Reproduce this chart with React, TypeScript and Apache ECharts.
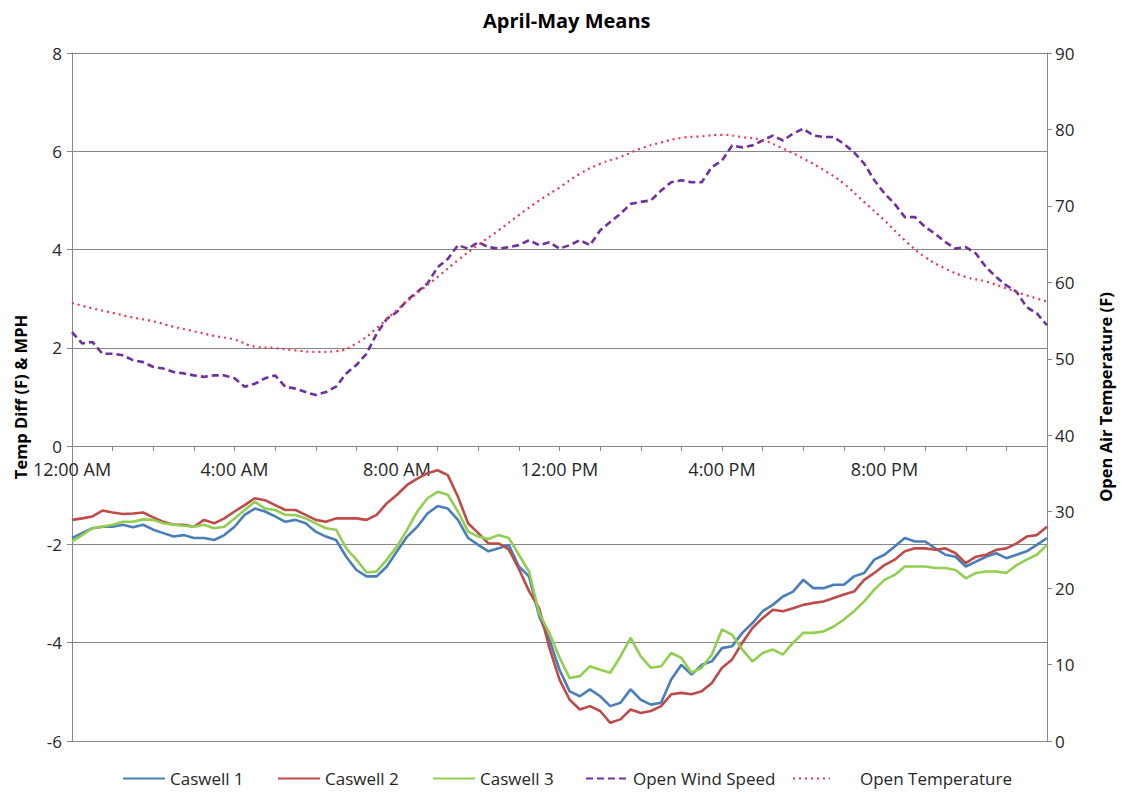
import { useEffect, useRef } from "react";
import * as echarts from "echarts";

const TITLE = "April-May Means";
const LEFT_AXIS_NAME = "Temp Diff (F) & MPH";
const RIGHT_AXIS_NAME = "Open Air Temperature (F)";

const X_LABEL_HOURS = [0, 4, 8, 12, 16, 20];
const X_LABELS = ["12:00 AM", "4:00 AM", "8:00 AM", "12:00 PM", "4:00 PM", "8:00 PM"];

// sample times (hours since midnight), every 15 minutes
const HOURS = Array.from({ length: 97 }, (_, i) => i / 4);
// temperature sample times, every 30 minutes
const TEMP_HOURS = Array.from({ length: 49 }, (_, i) => i / 2);

const CASWELL_1 = [
  -1.87, -1.77, -1.67, -1.64, -1.64, -1.6, -1.65, -1.6, -1.7, -1.77, -1.84, -1.81, -1.87, -1.87, -1.91, -1.81,
  -1.64, -1.4, -1.27, -1.33, -1.43, -1.54, -1.5, -1.57, -1.74, -1.84, -1.91, -2.25, -2.52, -2.65, -2.65, -2.45,
  -2.14, -1.84, -1.64, -1.37, -1.22, -1.27, -1.5, -1.87, -2.01, -2.14, -2.08, -2.01, -2.45, -2.65, -3.46, -3.94,
  -4.55, -4.99, -5.09, -4.95, -5.09, -5.29, -5.22, -4.95, -5.16, -5.26, -5.22, -4.75, -4.45, -4.65, -4.45, -4.38,
  -4.11, -4.07, -3.8, -3.6, -3.36, -3.23, -3.06, -2.96, -2.72, -2.89, -2.89, -2.82, -2.82, -2.65, -2.58, -2.31,
  -2.21, -2.04, -1.87, -1.94, -1.94, -2.08, -2.21, -2.25, -2.45, -2.35, -2.25, -2.18, -2.28, -2.21, -2.14, -2.01,
  -1.87,
];

const CASWELL_2 = [
  -1.5, -1.47, -1.43, -1.31, -1.35, -1.38, -1.37, -1.35, -1.45, -1.54, -1.6, -1.6, -1.64, -1.5, -1.57, -1.47,
  -1.33, -1.2, -1.06, -1.1, -1.2, -1.3, -1.3, -1.4, -1.5, -1.54, -1.47, -1.47, -1.47, -1.5, -1.4, -1.16,
  -0.99, -0.79, -0.66, -0.55, -0.49, -0.59, -1.03, -1.57, -1.77, -1.98, -1.98, -2.1, -2.5, -2.95, -3.3, -4.1,
  -4.75, -5.16, -5.36, -5.29, -5.39, -5.63, -5.56, -5.36, -5.43, -5.39, -5.29, -5.05, -5.02, -5.05, -4.99, -4.82,
  -4.51, -4.34, -4.0, -3.7, -3.5, -3.33, -3.36, -3.3, -3.23, -3.19, -3.16, -3.09, -3.02, -2.96, -2.72, -2.58,
  -2.42, -2.31, -2.14, -2.08, -2.08, -2.11, -2.08, -2.18, -2.38, -2.25, -2.21, -2.11, -2.08, -1.98, -1.84, -1.81,
  -1.64,
];

const CASWELL_3 = [
  -1.94, -1.81, -1.67, -1.64, -1.6, -1.54, -1.54, -1.49, -1.5, -1.57, -1.6, -1.62, -1.64, -1.6, -1.67, -1.64,
  -1.47, -1.3, -1.13, -1.27, -1.3, -1.4, -1.4, -1.47, -1.57, -1.67, -1.7, -2.08, -2.31, -2.57, -2.55, -2.31,
  -2.04, -1.7, -1.33, -1.06, -0.93, -0.99, -1.33, -1.74, -1.84, -1.89, -1.81, -1.87, -2.21, -2.55, -3.4, -3.8,
  -4.3, -4.72, -4.68, -4.48, -4.55, -4.61, -4.28, -3.9, -4.28, -4.51, -4.48, -4.21, -4.31, -4.61, -4.51, -4.24,
  -3.73, -3.84, -4.14, -4.38, -4.21, -4.14, -4.24, -4.0, -3.8, -3.8, -3.77, -3.67, -3.53, -3.36, -3.16, -2.92,
  -2.72, -2.62, -2.45, -2.45, -2.45, -2.48, -2.48, -2.52, -2.69, -2.58, -2.55, -2.55, -2.58, -2.42, -2.31, -2.21,
  -2.01,
];

const OPEN_WIND_SPEED = [
  2.32, 2.09, 2.12, 1.88, 1.88, 1.85, 1.75, 1.71, 1.61, 1.58, 1.51, 1.48, 1.44, 1.41, 1.44, 1.44,
  1.38, 1.21, 1.27, 1.38, 1.44, 1.21, 1.17, 1.1, 1.04, 1.1, 1.21, 1.48, 1.65, 1.88, 2.29, 2.59,
  2.73, 2.97, 3.14, 3.31, 3.64, 3.81, 4.09, 4.02, 4.15, 4.05, 4.02, 4.05, 4.09, 4.19, 4.09, 4.15,
  4.02, 4.09, 4.19, 4.09, 4.39, 4.56, 4.73, 4.93, 4.97, 5.0, 5.2, 5.37, 5.41, 5.37, 5.37, 5.68,
  5.81, 6.12, 6.08, 6.12, 6.22, 6.32, 6.22, 6.36, 6.46, 6.32, 6.29, 6.29, 6.15, 5.98, 5.75, 5.41,
  5.14, 4.93, 4.66, 4.66, 4.46, 4.32, 4.15, 4.02, 4.05, 3.92, 3.64, 3.44, 3.27, 3.14, 2.83, 2.7,
  2.46,
];

const OPEN_TEMPERATURE = [
  57.3, 56.6, 56.0, 55.4, 54.9, 54.2, 53.6, 53.0, 52.5, 51.6, 51.4, 51.1, 50.9, 51.0, 52.0, 54.0,
  56.4, 58.6, 60.7, 62.9, 64.9, 66.8, 68.8, 70.7, 72.4, 74.2, 75.5, 76.4, 77.5, 78.3, 78.9, 79.1,
  79.3, 79.0, 78.6, 77.5, 76.2, 74.7, 72.9, 70.5, 68.1, 65.5, 63.3, 61.8, 60.7, 60.1, 59.2, 58.3,
  57.5,
];

const SERIES_NAMES = ["Caswell 1", "Caswell 2", "Caswell 3", "Open Wind Speed", "Open Temperature"];

const FONT = "'Open Sans', 'Noto Sans', sans-serif";
const GRID_COLOR = "#868686";
const TEXT_COLOR = "#262626";

const zip = (xs: number[], ys: number[]) => ys.map((y, i) => [xs[i], y]);

export default function App() {
  const ref = useRef<HTMLDivElement>(null);

  useEffect(() => {
    if (!ref.current) return;
    const chart = echarts.init(ref.current, undefined, { renderer: "svg" });

    const legendLefts = [122, 277, 432, 585, 792];
    const legends = SERIES_NAMES.map((name, i) => ({
      data: [name],
      left: legendLefts[i],
      top: 770,
      padding: 0,
      itemWidth: i === 4 ? 37 : 42,
      itemHeight: 12,
      itemStyle: { color: "rgba(0,0,0,0)", borderWidth: 0, opacity: 0 },
      textStyle: {
        fontSize: 17,
        fontFamily: FONT,
        color: TEXT_COLOR,
        padding: i === 4 ? [0, 0, 0, 25] : [0, 0, 0, 0],
      },
    }));

    const lineSeries = (name: string, data: number[][], color: string, extra: any = {}) => ({
      name,
      type: "line",
      data,
      showSymbol: false,
      symbol: "none",
      yAxisIndex: 0,
      lineStyle: { color, width: 2.6 },
      itemStyle: { color },
      ...extra,
    });

    chart.setOption({
      animation: false,
      backgroundColor: "#ffffff",
      title: {
        text: TITLE,
        left: 478,
        top: 5,
        textStyle: { fontSize: 20, fontWeight: "bold", fontFamily: FONT, color: "#000" },
      },
      legend: legends,
      grid: { left: 72, right: 71, top: 53, bottom: 52, containLabel: false },
      xAxis: {
        type: "value",
        min: 0,
        max: 24,
        interval: 1,
        position: "bottom",
        offset: -295,
        axisLine: { show: true, onZero: false, lineStyle: { color: GRID_COLOR, width: 1 } },
        axisTick: { show: true, length: 5, inside: false, lineStyle: { color: GRID_COLOR } },
        axisLabel: {
          fontSize: 18,
          fontFamily: FONT,
          color: TEXT_COLOR,
          margin: 14,
          showMinLabel: true,
          showMaxLabel: true,
          hideOverlap: false,
          formatter: (v: number) => {
            const i = X_LABEL_HOURS.indexOf(v);
            return i >= 0 ? X_LABELS[i] : "";
          },
        },
        splitLine: { show: false },
      },
      yAxis: [
        {
          type: "value",
          position: "left",
          min: -6,
          max: 8,
          interval: 2,
          name: LEFT_AXIS_NAME,
          nameLocation: "middle",
          nameGap: 43,
          nameTextStyle: { fontSize: 16.5, fontWeight: "bold", fontFamily: FONT, color: "#000" },
          axisLine: { show: true, onZero: false, lineStyle: { color: GRID_COLOR } },
          axisTick: { show: true, length: 5, lineStyle: { color: GRID_COLOR } },
          axisLabel: { fontSize: 17, fontFamily: FONT, color: TEXT_COLOR, margin: 10 },
          splitLine: { show: true, lineStyle: { color: GRID_COLOR, width: 1 } },
        },
        {
          type: "value",
          position: "right",
          min: 0,
          max: 90,
          interval: 10,
          name: RIGHT_AXIS_NAME,
          nameLocation: "middle",
          nameGap: 50,
          nameTextStyle: { fontSize: 16.5, fontWeight: "bold", fontFamily: FONT, color: "#000" },
          axisLine: { show: true, onZero: false, lineStyle: { color: GRID_COLOR } },
          axisTick: { show: true, length: 5, lineStyle: { color: GRID_COLOR } },
          axisLabel: { fontSize: 17, fontFamily: FONT, color: TEXT_COLOR, margin: 8 },
          splitLine: { show: false },
        },
      ],
      series: [
        lineSeries(SERIES_NAMES[0], zip(HOURS, CASWELL_1), "#4A7EBB"),
        lineSeries(SERIES_NAMES[1], zip(HOURS, CASWELL_2), "#BE4B48"),
        lineSeries(SERIES_NAMES[2], zip(HOURS, CASWELL_3), "#92CF50"),
        lineSeries(SERIES_NAMES[3], zip(HOURS, OPEN_WIND_SPEED), "#7030A0", {
          lineStyle: { color: "#7030A0", width: 2.6, type: [7, 4] },
        }),
        lineSeries(SERIES_NAMES[4], zip(TEMP_HOURS, OPEN_TEMPERATURE), "#E8384F", {
          yAxisIndex: 1,
          smooth: true,
          lineStyle: { color: "#E8384F", width: 2.2, type: [2, 4] },
        }),
      ],
    });

    return () => chart.dispose();
  }, []);

  return (
    <div
      ref={ref}
      style={{ position: "fixed", left: 0, top: 0, width: 1122, height: 793, background: "#fff" }}
    />
  );
}
